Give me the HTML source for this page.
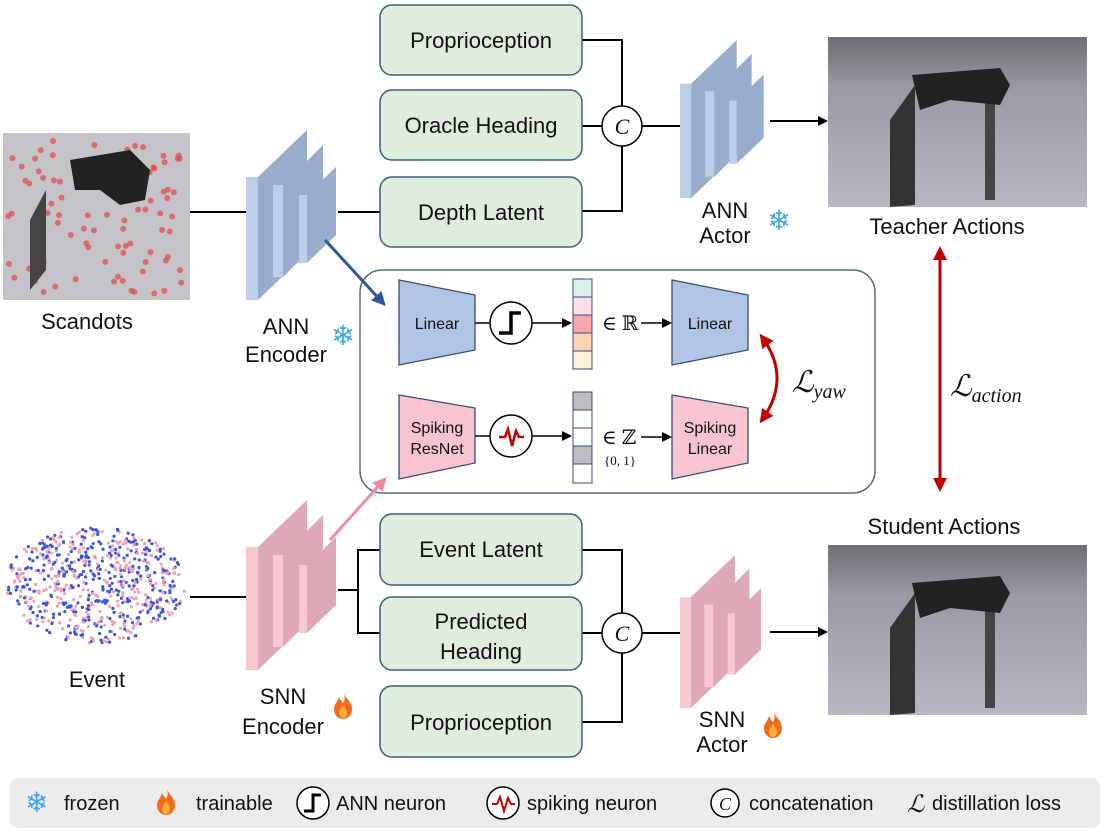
<!DOCTYPE html>
<html><head><meta charset="utf-8"><style>
body{margin:0;background:#fff;width:1105px;height:831px;overflow:hidden}
text{font-family:"Liberation Sans",sans-serif;fill:#111}
.m{font-family:"Liberation Serif","DejaVu Serif",serif}
</style></head><body>
<svg id="s" width="1105" height="831" viewBox="0 0 1105 831" xmlns="http://www.w3.org/2000/svg">
<defs>
<marker id="ab" markerWidth="10" markerHeight="10" refX="8" refY="5" orient="auto" markerUnits="userSpaceOnUse"><path d="M0,0L10,5L0,10z" fill="#000"/></marker>
<marker id="ar" markerWidth="14" markerHeight="14" refX="10" refY="7" orient="auto-start-reverse" markerUnits="userSpaceOnUse"><path d="M0,0L14,7L0,14z" fill="#c00000"/></marker>
<marker id="abl" markerWidth="14" markerHeight="14" refX="10" refY="7" orient="auto" markerUnits="userSpaceOnUse"><path d="M0,0L14,7L0,14z" fill="#2f5597"/></marker>
<marker id="apk" markerWidth="14" markerHeight="14" refX="10" refY="7" orient="auto" markerUnits="userSpaceOnUse"><path d="M0,0L14,7L0,14z" fill="#ee8aa6"/></marker>
<linearGradient id="img" x1="0" y1="0" x2="0" y2="1"><stop offset="0" stop-color="#6e6e74"/><stop offset="0.3" stop-color="#9a9aa4"/><stop offset="1" stop-color="#b8b8c2"/></linearGradient>
<g id="slabB">
<rect x="246" y="177" width="12" height="123" fill="#bccde8"/><path d="M258,177L307,130L307,253L258,300z" fill="#9aaccb"/>
<rect x="273" y="185" width="10" height="92" fill="#bccde8"/><path d="M283,185L323,145L323,237L283,277z" fill="#9aaccb"/>
<rect x="299" y="195" width="8" height="68" fill="#bccde8"/><path d="M307,195L336,167L336,235L307,263z" fill="#9aaccb"/>
</g>
<g id="slabP">
<rect x="246" y="177" width="12" height="123" fill="#f6c8d0"/><path d="M258,177L307,130L307,253L258,300z" fill="#dea8b4"/>
<rect x="273" y="185" width="10" height="92" fill="#f6c8d0"/><path d="M283,185L323,145L323,237L283,277z" fill="#dea8b4"/>
<rect x="299" y="195" width="8" height="68" fill="#f6c8d0"/><path d="M307,195L336,167L336,235L307,263z" fill="#dea8b4"/>
</g>
<g id="fire"><path d="M10,0C12,6 18,9 18,16C18,22 14,26 9,26C4,26 0,22 0,16C0,11 4,9 5,4C7,8 8,9 9,10C11,7 11,4 10,0z" fill="#f26b1d"/><path d="M9,12C11,15 13,17 13,20C13,23 11,25 9,25C7,25 5,23 5,20C5,18 7,16 9,12z" fill="#fbb03b"/></g>
</defs>

<!-- images -->
<rect x="3" y="133" width="187" height="167" fill="#c4c4c8"/>
<g id="dots"></g>
<path d="M30,220L46,190L46,270L30,290z" fill="#444"/>
<path d="M70,160L130,150L150,170L145,200L120,205L100,190L75,190z" fill="#222"/>
<rect x="828" y="37" width="259" height="170" fill="url(#img)"/>
<path d="M890,120L915,85L915,205L890,207z" fill="#333"/><path d="M985,90L995,90L995,200L985,200z" fill="#444"/>
<path d="M912,75L1000,68L1010,85L1000,105L950,100L920,110z" fill="#222"/>
<rect x="828" y="545" width="259" height="170" fill="url(#img)"/>
<path d="M890,628L915,593L915,713L890,715z" fill="#333"/><path d="M985,598L995,598L995,708L985,708z" fill="#444"/>
<path d="M912,583L1000,576L1010,593L1000,613L950,608L920,618z" fill="#222"/>
<g id="ev"></g>

<!-- lines -->
<g stroke="#000" stroke-width="2" fill="none">
<path d="M190,212H246M338,212H380"/>
<path d="M582,40H622V106M582,126H602M582,211H622V146M642,126H680"/>
<path d="M770,121H826" marker-end="url(#ab)"/>
<path d="M190,597H246M338,590H358M380,550H358V633H380"/>
<path d="M582,550H622V613M582,633H602M582,722H622V653M642,633H680"/>
<path d="M770,632H826" marker-end="url(#ab)"/>
</g>

<use href="#slabB"/>
<use href="#slabB" transform="translate(680,40) scale(0.93) translate(-246,-130)"/>
<use href="#slabP" transform="translate(0,370)"/>
<use href="#slabP" transform="translate(680,555) scale(0.9) translate(-246,-130)"/>

<!-- green boxes -->
<g fill="#dfeddc" stroke="#3e5a7e" stroke-width="1.5">
<rect x="380" y="5" width="202" height="70" rx="12"/>
<rect x="380" y="90" width="202" height="70" rx="12"/>
<rect x="380" y="177" width="202" height="70" rx="12"/>
<rect x="380" y="514" width="202" height="71" rx="12"/>
<rect x="380" y="597" width="202" height="73" rx="12"/>
<rect x="380" y="686" width="202" height="71" rx="12"/>
</g>
<g font-size="22" text-anchor="middle">
<text x="481" y="48">Proprioception</text>
<text x="481" y="133">Oracle Heading</text>
<text x="481" y="220">Depth Latent</text>
<text x="481" y="557">Event Latent</text>
<text x="481" y="629">Predicted</text><text x="481" y="659">Heading</text>
<text x="481" y="730">Proprioception</text>
</g>
<g fill="#fff" stroke="#000" stroke-width="1.5"><circle cx="622" cy="126" r="20"/><circle cx="622" cy="633" r="20"/></g>
<text class="m" x="622" y="134" font-size="22" font-style="italic" text-anchor="middle">C</text>
<text class="m" x="622" y="641" font-size="22" font-style="italic" text-anchor="middle">C</text>

<!-- labels -->
<g font-size="22" text-anchor="middle">
<text x="87" y="329">Scandots</text>
<text x="286" y="334">ANN</text><text x="286" y="362">Encoder</text>
<text x="725" y="218">ANN</text><text x="725" y="243">Actor</text>
<text x="947" y="234">Teacher Actions</text>
<text x="944" y="534">Student Actions</text>
<text x="97" y="687">Event</text>
<text x="283" y="704">SNN</text><text x="283" y="734">Encoder</text>
<text x="722" y="727">SNN</text><text x="722" y="752">Actor</text>
</g>
<text x="343" y="345" font-size="28" text-anchor="middle" style="fill:#3fa4ea">❄</text>
<text x="779" y="230" font-size="28" text-anchor="middle" style="fill:#3fa4ea">❄</text>
<use href="#fire" transform="translate(334,693)"/>
<use href="#fire" transform="translate(764,712)"/>

<!-- central box -->
<rect x="360" y="270" width="515" height="223" rx="22" fill="#fff" stroke="#5a6a80" stroke-width="1.5"/>
<path d="M325,240L383,303" stroke="#2f5597" stroke-width="3" marker-end="url(#abl)"/>
<path d="M330,540L384,480" stroke="#ee8aa6" stroke-width="3" marker-end="url(#apk)"/>
<path d="M399,280L475,295L475,350L399,365z" fill="#b0c4e4" stroke="#3a4a7a" stroke-width="1.3"/>
<path d="M672,280L748,295L748,350L672,365z" fill="#b0c4e4" stroke="#3a4a7a" stroke-width="1.3"/>
<path d="M399,395L475,408L475,463L399,479z" fill="#f8c4cf" stroke="#3a4a7a" stroke-width="1.3"/>
<path d="M672,395L748,408L748,463L672,479z" fill="#f8c4cf" stroke="#3a4a7a" stroke-width="1.3"/>
<g font-size="16" text-anchor="middle">
<text x="437" y="329">Linear</text><text x="710" y="329">Linear</text>
<text x="437" y="433">Spiking</text><text x="437" y="454">ResNet</text>
<text x="710" y="433">Spiking</text><text x="710" y="454">Linear</text>
</g>
<g stroke="#000" stroke-width="1.5" fill="none">
<path d="M475,323H490M475,436H490"/>
<circle cx="511" cy="323" r="21" fill="#fff"/><circle cx="511" cy="436" r="21" fill="#fff"/>
<path d="M532,323H570" marker-end="url(#ab)"/>
<path d="M532,436H570" marker-end="url(#ab)"/>
<path d="M641,323H670" marker-end="url(#ab)"/>
<path d="M641,437H670" marker-end="url(#ab)"/>
</g>
<path d="M499,333H511V313H521" stroke="#000" stroke-width="3.5" fill="none"/>
<path d="M499,437H505L508,429L512,446L516,431L519,437H524" stroke="#c00000" stroke-width="2.5" fill="none"/>
<g stroke="#3a4a7a" stroke-width="1">
<rect x="573" y="279" width="19" height="18" fill="#daeeea"/><rect x="573" y="297" width="19" height="18" fill="#fce0e6"/>
<rect x="573" y="315" width="19" height="18" fill="#f5a8a8"/><rect x="573" y="333" width="19" height="18" fill="#fad4b4"/>
<rect x="573" y="351" width="19" height="18" fill="#fbf0d8"/>
<rect x="573" y="392" width="19" height="18" fill="#bdbdbd"/><rect x="573" y="410" width="19" height="18" fill="#fff"/>
<rect x="573" y="428" width="19" height="18" fill="#fff"/><rect x="573" y="446" width="19" height="18" fill="#bdbdbd"/>
<rect x="573" y="464" width="19" height="19" fill="#fff"/>
</g>
<text class="m" x="602" y="330" font-size="20">∈ ℝ</text>
<text class="m" x="602" y="444" font-size="20">∈ ℤ</text>
<text class="m" x="604" y="465" font-size="13">{0, 1}</text>
<path d="M762,337Q792,378 762,420" stroke="#c00000" stroke-width="3" fill="none" marker-start="url(#ar)" marker-end="url(#ar)"/>
<text class="m" x="792" y="392" font-size="30" font-style="italic">ℒ<tspan font-size="20" dy="6">yaw</tspan></text>
<path d="M940,250V488" stroke="#c00000" stroke-width="3" marker-start="url(#ar)" marker-end="url(#ar)"/>
<text class="m" x="950" y="396" font-size="30" font-style="italic">ℒ<tspan font-size="20" dy="6">action</tspan></text>

<!-- legend -->
<rect x="10" y="778" width="1090" height="50" rx="8" fill="#ebebeb"/>
<g font-size="20">
<text x="25" y="812" font-size="28" style="fill:#3fa4ea">❄</text><text x="64" y="810">frozen</text>
<use href="#fire" transform="translate(157,789)"/><text x="196" y="810">trainable</text>
<circle cx="313" cy="803" r="16" fill="#fff" stroke="#000" stroke-width="1.5"/>
<path d="M304,811H313V795H321" stroke="#000" stroke-width="3" fill="none"/>
<text x="336" y="810">ANN neuron</text>
<circle cx="503" cy="803" r="16" fill="#fff" stroke="#000" stroke-width="1.5"/>
<path d="M492,804H497L500,797L504,811L508,798L511,804H515" stroke="#c00000" stroke-width="2" fill="none"/>
<text x="527" y="810">spiking neuron</text>
<circle cx="725" cy="803" r="14" fill="#fff" stroke="#000" stroke-width="1.5"/>
<text class="m" x="725" y="810" font-size="18" font-style="italic" text-anchor="middle">C</text>
<text x="749" y="810">concatenation</text>
<text class="m" x="907" y="812" font-size="24" font-style="italic">ℒ</text>
<text x="932" y="810">distillation loss</text>
</g>
</svg>
<script>
var ns="http://www.w3.org/2000/svg";
function r(){var x=Math.sin(r.s++)*10000;return x-Math.floor(x);}r.s=1;
var d=document.getElementById("dots");
for(var i=0;i<90;i++){var c=document.createElementNS(ns,"circle");c.setAttribute("cx",8+r()*178);c.setAttribute("cy",138+r()*158);c.setAttribute("r",3);c.setAttribute("fill","#e04848");c.setAttribute("opacity","0.7");d.appendChild(c);}
var e=document.getElementById("ev");
for(var i=0;i<700;i++){var a=r()*6.283,rr=Math.sqrt(r());var x=95+Math.cos(a)*rr*90,y=585+Math.sin(a)*rr*58;
var c=document.createElementNS(ns,"circle");c.setAttribute("cx",x);c.setAttribute("cy",y);c.setAttribute("r",1.6);c.setAttribute("fill",r()<0.5?"#3a56d8":"#f0a0b4");e.appendChild(c);}
</script>
</body></html>
